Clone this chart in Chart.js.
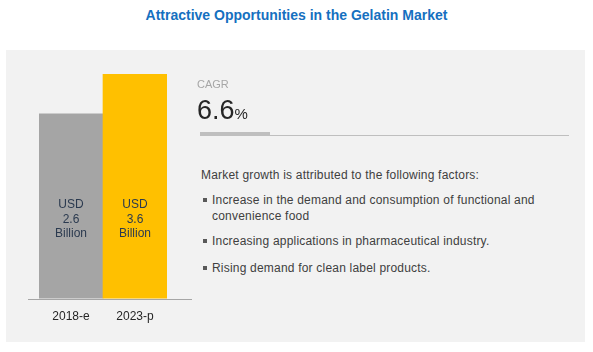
<!DOCTYPE html>
<html>
<head>
<meta charset="utf-8">
<script src="https://cdn.jsdelivr.net/npm/chart.js@4"></script>
<style>
  body { margin: 0; width: 593px; height: 352px; background: #fff; position: relative; overflow: hidden; font-family: "Liberation Sans", Arial, sans-serif; }
  .abs { position: absolute; white-space: nowrap; }
  #title { left: 0; width: 593px; top: 6px; text-align: center; font: bold 14px "Liberation Sans Narrow", "Liberation Sans", sans-serif; line-height: 18px; color: #1570c0; }
  #panel { left: 6px; top: 50px; width: 579px; height: 292px; background: #f2f2f2; }
  #chartWrap { left: 0; top: 50px; width: 200px; height: 292px; }
  #cagrLbl { left: 197px; top: 77px; font-size: 11px; line-height: 14px; color: #a6a6a6; }
  #cagrVal { left: 197px; top: 95px; font-size: 27px; line-height: 30px; color: #262626; }
  #cagrVal span { font-size: 15px; }
  #barThick { left: 200px; top: 132px; width: 70px; height: 4px; background: #bfbfbf; }
  #barThin { left: 270px; top: 135px; width: 299px; height: 1px; background: #bfbfbf; }
  .txt { font-size: 12px; line-height: 16px; color: #404040; letter-spacing: 0.2px; }
  .item { left: 212px; }
  .item::before { content: ""; position: absolute; left: -9px; top: 6px; width: 4px; height: 4px; background: #595959; }
</style>
</head>
<body>
<div id="title" class="abs">Attractive Opportunities in the Gelatin Market</div>
<div id="panel" class="abs"></div>
<div id="chartWrap" class="abs"><canvas id="chartBar"></canvas></div>
<div id="cagrLbl" class="abs">CAGR</div>
<div id="cagrVal" class="abs">6.6<span>%</span></div>
<div id="barThick" class="abs"></div>
<div id="barThin" class="abs"></div>
<div class="abs txt" style="left:201px; top:167px;">Market growth is attributed to the following factors:</div>
<div class="abs txt item" style="top:192px;">Increase in the demand and consumption of functional and<br>convenience food</div>
<div class="abs txt item" style="top:233px;">Increasing applications in pharmaceutical industry.</div>
<div class="abs txt item" style="top:260px;">Rising demand for clean label products.</div>

<script>
  const categories = ['2018-e', '2023-p'];
  const marketValues = [2.6, 3.6]; // USD billion
  const barColors = ['#a5a5a5', '#ffc000'];

  // linea base y etiquetas dentro de las barras
  const decor = {
    id: 'decor',
    afterDatasetsDraw(chart) {
      const ctx = chart.ctx;
      const x = chart.scales.x;
      const y = chart.scales.y;
      const base = Math.round(y.getPixelForValue(y.min));
      ctx.save();
      ctx.strokeStyle = '#a6a6a6';
      ctx.lineWidth = 1;
      ctx.beginPath();
      ctx.moveTo(x.left - 11, base + 0.5);
      ctx.lineTo(x.right + 25, base + 0.5);
      ctx.stroke();

      const mid = y.getPixelForValue(0) + 3;
      ctx.font = '12px "Liberation Sans", Arial, sans-serif';
      ctx.fillStyle = '#2b3a4f';
      ctx.textAlign = 'center';
      ctx.textBaseline = 'middle';
      marketValues.forEach((v, i) => {
        const bx = x.getPixelForValue(i);
        ctx.fillText('USD', bx, mid - 15);
        ctx.fillText(v.toFixed(1), bx, mid);
        ctx.fillText('Billion', bx, mid + 14);
      });
      ctx.restore();
    }
  };

  new Chart(document.getElementById('chartBar'), {
    type: 'bar',
    data: {
      labels: categories,
      datasets: [{
        data: marketValues,
        backgroundColor: barColors,
        borderWidth: 0,
        barPercentage: 1,
        categoryPercentage: 1,
        base: -2.05
      }]
    },
    options: {
      responsive: true,
      maintainAspectRatio: false,
      animation: false,
      layout: { padding: { left: 39, right: 33, top: 24, bottom: 7 } },
      plugins: {
        legend: { display: false },
        tooltip: { enabled: false }
      },
      scales: {
        x: {
          grid: { display: false, drawTicks: false },
          border: { display: false },
          ticks: {
            color: '#262626',
            padding: 11,
            font: { family: '"Liberation Sans", Arial, sans-serif', size: 12 }
          }
        },
        y: {
          display: false,
          min: -2.05,
          max: 3.6
        }
      }
    },
    plugins: [decor]
  });
</script>
</body>
</html>
